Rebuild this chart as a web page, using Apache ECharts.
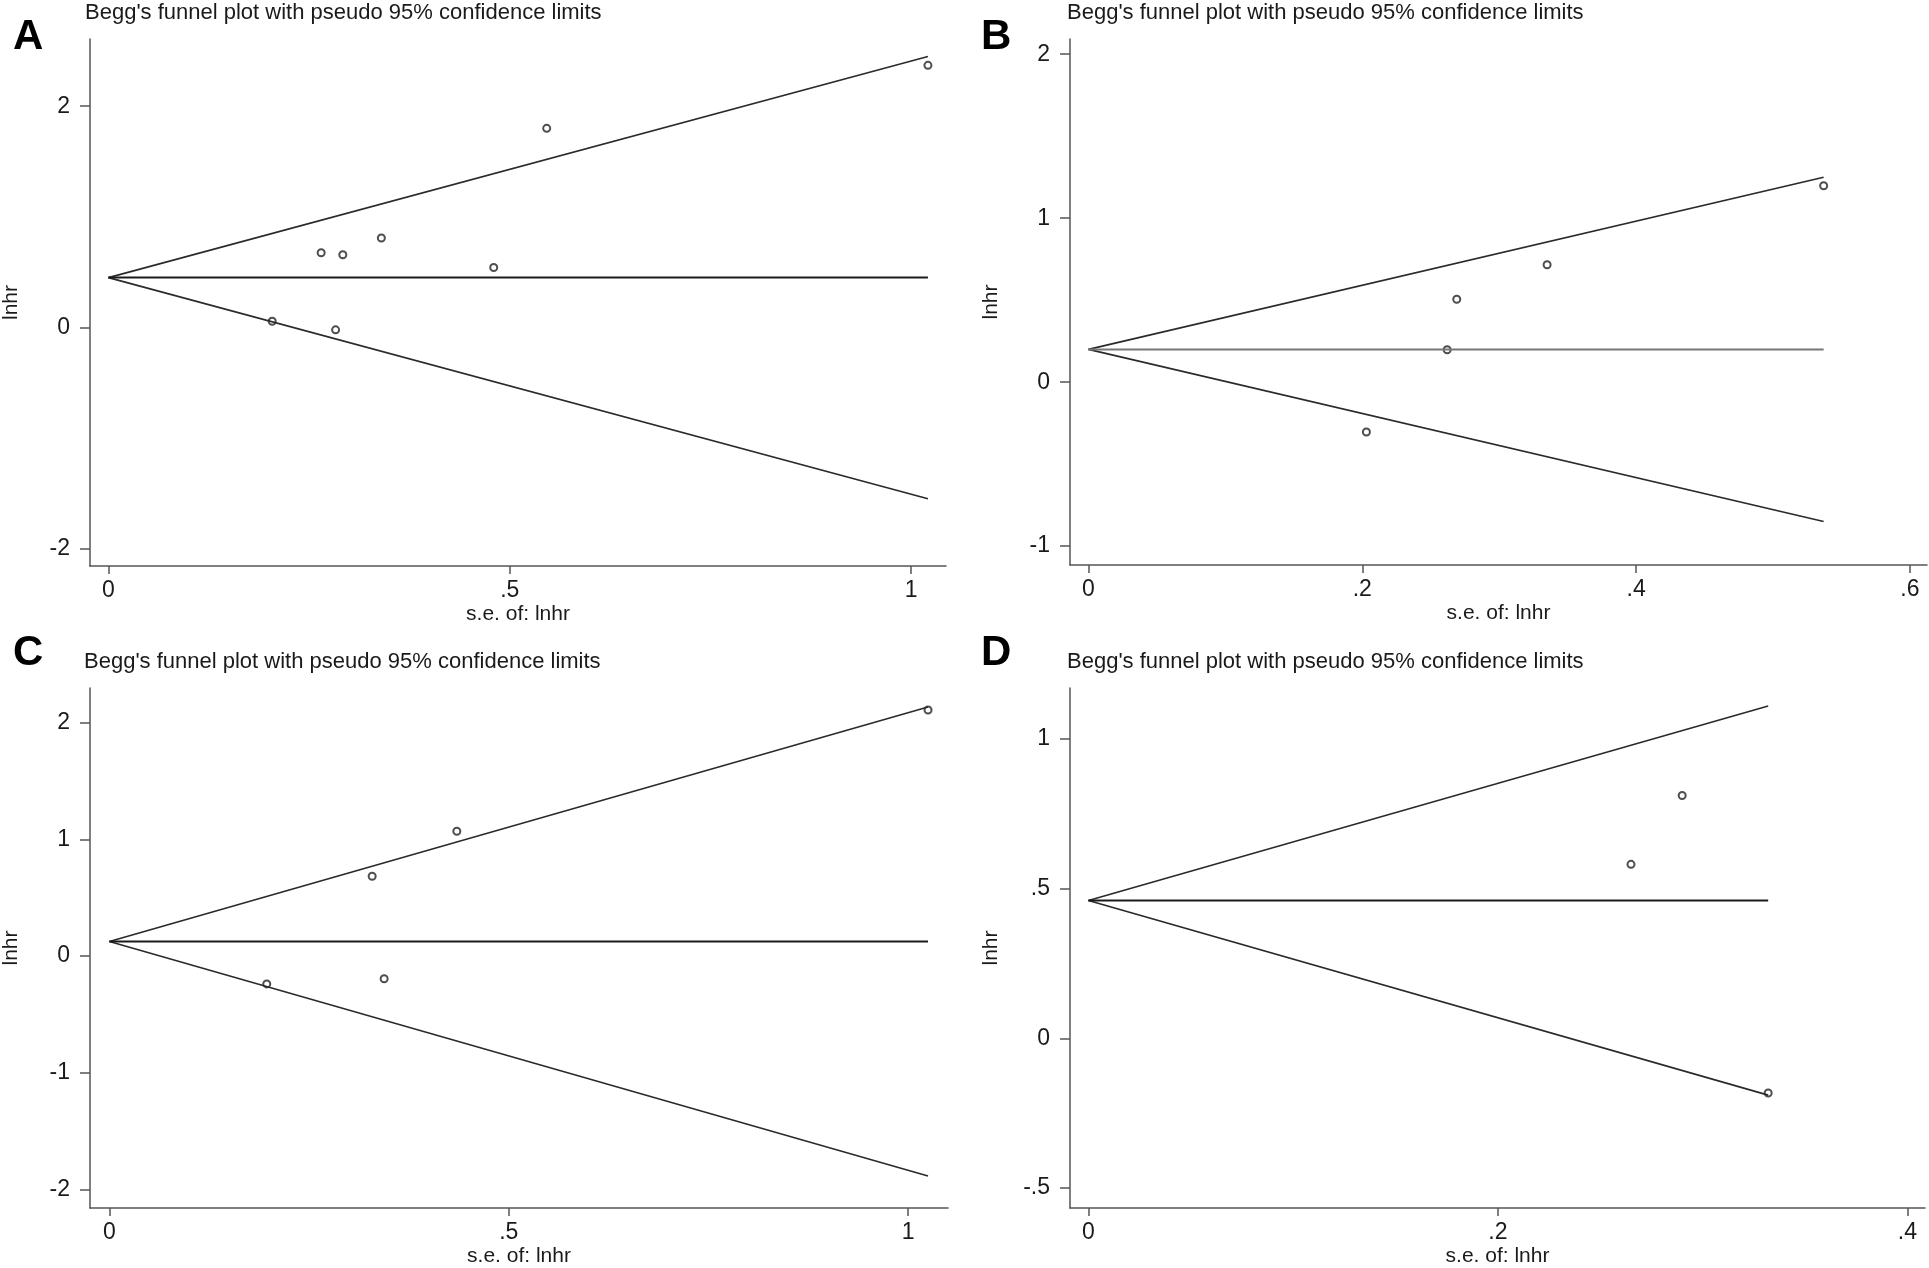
<!DOCTYPE html>
<html>
<head>
<meta charset="utf-8">
<script src="https://cdn.jsdelivr.net/npm/echarts@6/dist/echarts.min.js"></script>
<style>
  html, body { margin: 0; padding: 0; background: #fff; }
  #chart { width: 1929px; height: 1268px; }
</style>
</head>
<body>
<div id="chart"></div>
<script>
// panel order: A, B, C, D
const panelLetters = ['A', 'B', 'C', 'D'];
const titleText = "Begg's funnel plot with pseudo 95% confidence limits";

// study points (s.e. of lnhr, lnhr) per panel
const seA = [1.021, 0.546, 0.265, 0.292, 0.340, 0.480, 0.204, 0.283];
const lnhrA = [2.37, 1.80, 0.675, 0.657, 0.808, 0.542, 0.055, -0.022];
const seB = [0.537, 0.335, 0.269, 0.262, 0.203];
const lnhrB = [1.198, 0.716, 0.506, 0.198, -0.304];
const seC = [1.025, 0.435, 0.329, 0.197, 0.344];
const lnhrC = [2.109, 1.070, 0.684, -0.239, -0.195];
const seD = [0.290, 0.265, 0.332];
const lnhrD = [0.811, 0.581, -0.183];

// pooled estimate and funnel ends
const pooled = [0.45, 0.20, 0.125, 0.46];
const seMax = [1.021, 0.537, 1.025, 0.332];
const upperEnd = [2.45, 1.25, 2.135, 1.11];
const lowerEnd = [-1.55, -0.85, -1.885, -0.19];

// axis ticks
const xTicks = [[0, 0.5, 1], [0, 0.2, 0.4, 0.6], [0, 0.5, 1], [0, 0.2, 0.4]];
const yTicks = [[-2, 0, 2], [-1, 0, 1, 2], [-2, -1, 0, 1, 2], [-0.5, 0, 0.5, 1]];

const seList = [seA, seB, seC, seD];
const lnhrList = [lnhrA, lnhrB, lnhrC, lnhrD];

// layout of each plot (pixels) and visible axis ranges
const grids = [
    {left: 88, top: 39, width: 858, height: 527},
    {left: 1070, top: 39, width: 857, height: 526},
    {left: 87, top: 688, width: 861, height: 530},
    {left: 1070, top: 688, width: 855, height: 530}
];
const xRange = [[-0.023, 1.0435], [-0.0135, 0.6125], [-0.0243, 1.050], [-0.009, 0.4086]];
const yRange = [[-2.158, 2.608], [-1.115, 2.093], [-2.160, 2.298], [-0.567, 1.170]];

const FONT = '"Liberation Sans", Arial, sans-serif';

function stataNum(v) {
    let s = String(+(+v).toFixed(3));
    return s.replace(/^(-?)0\./, '$1.');
}

const xAxes = [], yAxes = [], series = [], graphics = [];

grids.forEach(function (g, i) {
    xAxes.push({
        type: 'value', gridIndex: i,
        min: xRange[i][0], max: xRange[i][1],
        name: 's.e. of: lnhr', nameLocation: 'middle', nameGap: 38,
        nameTextStyle: {fontFamily: FONT, fontSize: 21, color: '#1a1a1a'},
        axisLine: {show: true, onZero: false, lineStyle: {color: '#555', width: 1.5}},
        axisTick: {show: true, length: 8, customValues: xTicks[i], lineStyle: {color: '#555', width: 1.5}},
        axisLabel: {customValues: xTicks[i], formatter: stataNum, margin: 13,
            fontFamily: FONT, fontSize: 23, color: '#1a1a1a'},
        splitLine: {show: false}
    });
    yAxes.push({
        type: 'value', gridIndex: i,
        min: yRange[i][0], max: yRange[i][1],
        name: 'lnhr', nameLocation: 'middle', nameGap: 68,
        nameTextStyle: {fontFamily: FONT, fontSize: 21, color: '#1a1a1a'},
        axisLine: {show: true, onZero: false, lineStyle: {color: '#555', width: 1.5}},
        axisTick: {show: true, length: 10, customValues: yTicks[i], lineStyle: {color: '#555', width: 1.5}},
        axisLabel: {customValues: yTicks[i], formatter: stataNum, margin: 20,
            fontFamily: FONT, fontSize: 23, color: '#1a1a1a'},
        splitLine: {show: false}
    });

    const c = pooled[i];
    const lineColor = i === 1 ? '#777' : '#1a1a1a';
    series.push({
        type: 'line', xAxisIndex: i, yAxisIndex: i, symbol: 'none', silent: true,
        data: [[0, c], [seMax[i], upperEnd[i]]],
        lineStyle: {color: '#2a2a2a', width: 1.6}
    });
    series.push({
        type: 'line', xAxisIndex: i, yAxisIndex: i, symbol: 'none', silent: true,
        data: [[0, c], [seMax[i], lowerEnd[i]]],
        lineStyle: {color: '#2a2a2a', width: 1.6}
    });
    series.push({
        type: 'line', xAxisIndex: i, yAxisIndex: i, symbol: 'none', silent: true,
        data: [[0, c], [seMax[i], c]],
        lineStyle: {color: lineColor, width: 2}
    });
    series.push({
        type: 'scatter', xAxisIndex: i, yAxisIndex: i,
        symbol: 'emptyCircle', symbolSize: 7,
        itemStyle: {color: '#222', borderWidth: 1.3},
        data: seList[i].map(function (s, k) { return [s, lnhrList[i][k]]; })
    });

    graphics.push({
        type: 'text', left: g.left - 3, top: g.top - 37,
        style: {text: titleText, font: '22px ' + FONT, fill: '#1a1a1a'}
    });
});

graphics.push(
    {type: 'text', left: 13, top: 16, style: {text: 'A', font: 'bold 42px ' + FONT, fill: '#000'}},
    {type: 'text', left: 981, top: 16, style: {text: 'B', font: 'bold 42px ' + FONT, fill: '#000'}},
    {type: 'text', left: 13, top: 632, style: {text: 'C', font: 'bold 42px ' + FONT, fill: '#000'}},
    {type: 'text', left: 981, top: 632, style: {text: 'D', font: 'bold 42px ' + FONT, fill: '#000'}}
);

const chart = echarts.init(document.getElementById('chart'), null, {renderer: 'canvas'});
chart.setOption({
    backgroundColor: '#fff',
    animation: false,
    grid: grids.map(function (g) { return Object.assign({containLabel: false}, g); }),
    xAxis: xAxes,
    yAxis: yAxes,
    series: series,
    graphic: graphics
});
</script>
</body>
</html>
